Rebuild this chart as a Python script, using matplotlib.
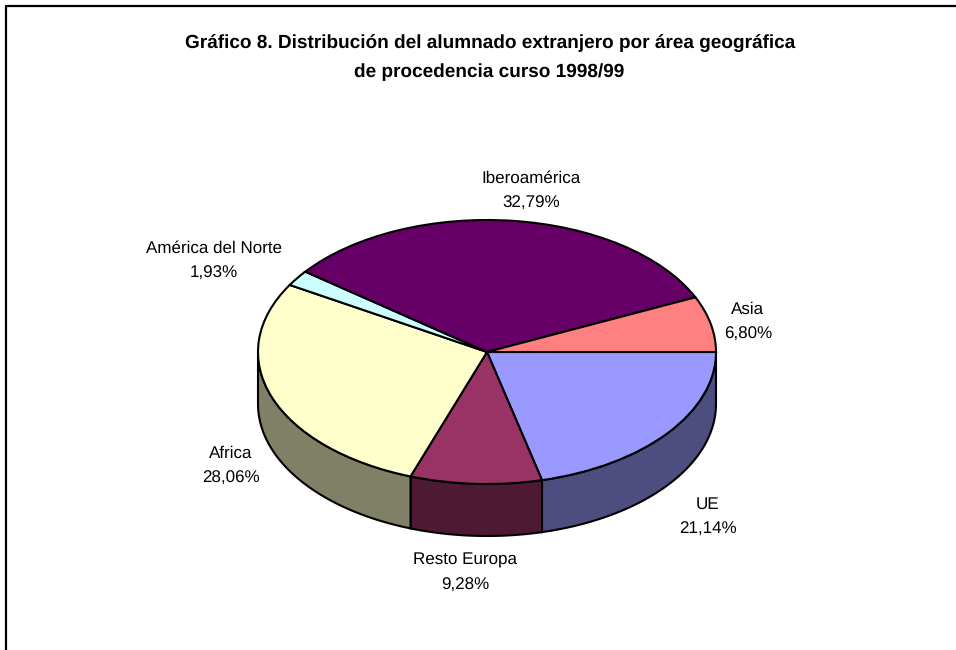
import numpy as np
import matplotlib
matplotlib.use("Agg")
import matplotlib.pyplot as plt
from matplotlib.lines import Line2D

plt.rcParams['font.family'] = ['Liberation Sans', 'DejaVu Sans']
plt.rcParams['text.hinting'] = 'no_hinting'
plt.rcParams['text.hinting_factor'] = 1

W, H = 956, 650
title_lines = ["Gráfico 8. Distribución del alumnado extranjero por área geográfica",
               "de procedencia curso 1998/99"]
categories = ["UE", "Resto Europa", "Africa", "América del Norte", "Iberoamérica", "Asia"]
values = [21.14, 9.28, 28.06, 1.93, 32.79, 6.80]
value_labels = ["21,14%", "9,28%", "28,06%", "1,93%", "32,79%", "6,80%"]
top_colors = ["#9999FF", "#993366", "#FFFFCC", "#CCFFFF", "#660066", "#FF8080"]
side_colors = ["#4D4D80", "#4D1933", "#808066", "#668080", "#330033", "#804040"]
label_px = [(708, 516.5), (465, 573), (231, 465.5), (214, 260.5), (531, 190.5), (748, 321.5)]

CX, CY, RX, RY, DEPTH = 487, 352, 229, 132, 52

fig = plt.figure(figsize=(W / 100, H / 100), dpi=100)
bg = fig.add_axes([0, 0, 1, 1])
bg.set_xlim(0, W)
bg.set_ylim(H, 0)
bg.axis("off")

bg.add_line(Line2D([6, 6, 956], [650, 6, 6], color="black", lw=1.6))

ax = fig.add_axes([(CX - RX) / W, 1 - (CY + RY) / H, 2 * RX / W, 2 * RY / H])
d = DEPTH / RY

fractions = np.array(values) / sum(values)
edges = np.concatenate([[0], np.cumsum(fractions)]) * -360.0
for i, col in enumerate(side_colors):
    a0, a1 = edges[i], edges[i + 1]
    lo, hi = max(a1, -180.0), min(a0, 0.0)
    if lo >= hi:
        continue
    t = np.radians(np.linspace(hi, lo, 60))
    x = np.cos(t)
    y = np.sin(t)
    ax.fill(np.r_[x, x[::-1]], np.r_[y, y[::-1] - d], facecolor=col,
            edgecolor="black", lw=1.5, clip_on=False, zorder=1)

wedges, _ = ax.pie(values, startangle=0, counterclock=False, colors=top_colors,
                   radius=1, center=(0, 0),
                   wedgeprops=dict(edgecolor="black", linewidth=1.5, zorder=2, clip_on=False))
ax.set_aspect("auto")
ax.set_xlim(-1, 1)
ax.set_ylim(-1, 1)
ax.axis("off")

bg.text(490, 48, title_lines[0], ha="center", va="baseline",
        fontsize=14.0, fontweight="bold", color="black")
bg.text(489, 77, title_lines[1], ha="center", va="baseline",
        fontsize=14.0, fontweight="bold", color="black")

for name, val, (lx, ly) in zip(categories, value_labels, label_px):
    bg.text(lx, ly - 12.5, name, ha="center", va="center", fontsize=13.4 * 0.9, color="black")
    bg.text(lx, ly + 12.5, val, ha="center", va="center", fontsize=13.4 * 0.9, color="black")

fig.savefig("out.png", dpi=100, facecolor="white")
